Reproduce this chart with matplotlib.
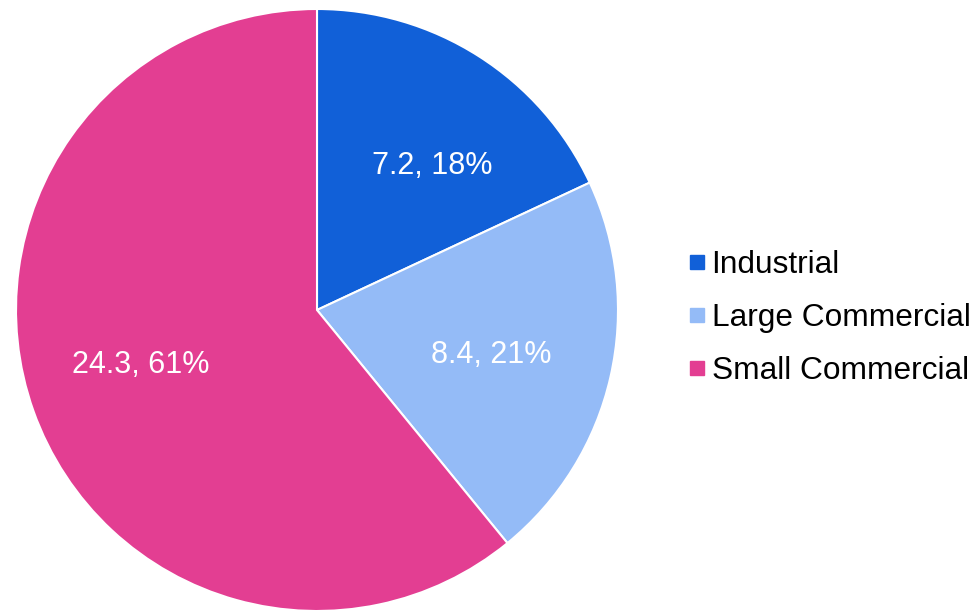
import matplotlib
matplotlib.use("Agg")
import matplotlib.pyplot as plt
from matplotlib.lines import Line2D

labels = ["Industrial", "Large Commercial", "Small Commercial"]
values = [7.2, 8.4, 24.3]
colors = ["#1160D8", "#94BBF7", "#E33E92"]

plt.rcParams["font.family"] = ["Liberation Sans", "DejaVu Sans"]

fig = plt.figure(figsize=(9.76, 6.12), dpi=100)
ax = fig.add_axes([16 / 976, 1 / 612, 602 / 976, 602 / 612])

total = sum(values)


def fmt(pct):
    v = pct * total / 100
    return f"{v:.1f}, {pct:.0f}%"


wedges, texts, autotexts = ax.pie(
    values, colors=colors, startangle=90, counterclock=False,
    autopct=fmt, pctdistance=0.61, radius=1,
    wedgeprops=dict(edgecolor="white", linewidth=1.5),
    textprops=dict(color="white", fontsize=22),
)
# nudge labels a little to where the original puts them (data units)
nudges = [(0.056, -0.037), (-0.017, -0.013), (-0.010, 0.023)]
for t, (dx, dy) in zip(autotexts, nudges):
    x, y = t.get_position()
    t.set_position((x + dx, y + dy))

ax.set_xlim(-1, 1)
ax.set_ylim(-1, 1)
ax.set_aspect("equal")

handles = [Line2D([], [], marker="s", linestyle="none", markersize=10,
                  markerfacecolor=c, markeredgecolor=c) for c in colors]
fig.legend(handles, labels, loc="center left", bbox_to_anchor=(672 / 976, 1 - 318 / 612),
           frameon=False, fontsize=22.8, handlelength=0.6, handletextpad=0.15,
           labelspacing=0.72, borderpad=0)

fig.savefig("out.png", dpi=100)
